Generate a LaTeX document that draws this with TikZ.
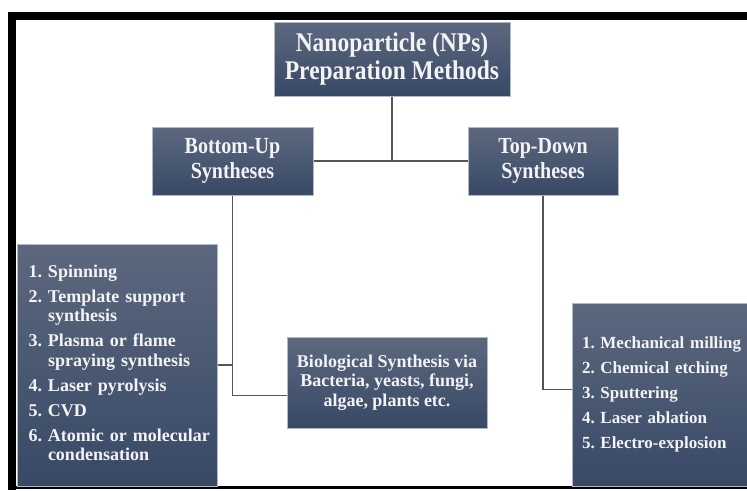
\documentclass[tikz,border=0pt]{standalone}
\usepackage{fontspec}
\setmainfont{Liberation Serif}
\newfontfamily\condFont{Liberation Serif}[FakeStretch=0.87]
\usepackage{tikz}
\usetikzlibrary{shapes, arrows}
\definecolor{boxTop}{RGB}{92,104,126}
\definecolor{boxBottom}{RGB}{56,73,102}
\definecolor{boxEdge}{RGB}{178,185,196}
\definecolor{boxText}{RGB}{243,243,243}
\definecolor{lineGray}{RGB}{85,85,85}
\tikzstyle{box} = [rectangle, top color=boxTop, bottom color=boxBottom, draw=boxEdge, line width=1pt, text=boxText, inner ysep=0pt]
\tikzstyle{title} = [box, align=center, inner xsep=0pt]
\tikzstyle{list} = [box, align=left, anchor=center]
\tikzstyle{link} = [draw=lineGray, line width=1.2pt]
\newcommand{\itemGap}{\\[5.5pt]}

\begin{document}
\begin{tikzpicture}[x=1pt, y=-1pt]
\useasboundingbox (0,0) rectangle (747,490);
% frame
\fill[black] (8,12) rectangle (747,20);
\fill[black] (8,12) rectangle (16,490);
\fill[black] (8,486) rectangle (747,489);

% titles
\node[title, minimum width=236pt, minimum height=74pt, font=\condFont\bfseries\fontsize{27}{28}\selectfont] (methods) at (392,59) {Nanoparticle (NPs)\\Preparation Methods};
\node[title, minimum width=161pt, minimum height=68pt, font=\condFont\bfseries\fontsize{23}{25}\selectfont] (bottomUp) at (232.5,161) {Bottom-Up\\Syntheses};
\node[title, minimum width=150pt, minimum height=68pt, font=\condFont\bfseries\fontsize{23}{25}\selectfont] (topDown) at (543,161) {Top-Down\\Syntheses};

% lists
\node[list, minimum width=200pt, minimum height=242pt, text width=177pt, inner xsep=11.5pt, font=\bfseries\fontsize{18}{19.5}\selectfont] (bottomUpList) at (117,365) {%
\begin{tabular}{@{}l@{\hspace{6pt}}l@{}}
1. & Spinning \itemGap
2. & Template support \\
   & synthesis \itemGap
3. & Plasma or flame \\
   & spraying synthesis \itemGap
4. & Laser pyrolysis \itemGap
5. & CVD \itemGap
6. & Atomic or molecular \\
   & condensation
\end{tabular}};
\node[box, minimum width=200pt, minimum height=91pt, align=center, inner xsep=0pt, font=\bfseries\fontsize{18}{19.5}\selectfont] (bioSynth) at (387,382.5) {Biological Synthesis via\\Bacteria, yeasts, fungi,\\algae, plants etc.};
\node[list, minimum width=190pt, minimum height=183pt, text width=170pt, inner xsep=10pt, font=\bfseries\frenchspacing\fontsize{17}{25}\selectfont] (topDownList) at (667,394.5) {%
1. Mechanical milling\\
2. Chemical etching\\
3. Sputtering\\
4. Laser ablation\\
5. Electro-explosion};

% connectors
\coordinate (split) at (methods.south |- bottomUp.east);
\draw[link] (methods.south) -- (split);
\draw[link] (bottomUp.east) -- (topDown.west);
\draw[link] (bottomUp.south) |- (bottomUpList.east);
\draw[link] (bottomUp.south) |- ([yshift=-13pt]bioSynth.west);
\draw[link] (topDown.south) |- ([yshift=5pt]topDownList.west);
\end{tikzpicture}
\end{document}
